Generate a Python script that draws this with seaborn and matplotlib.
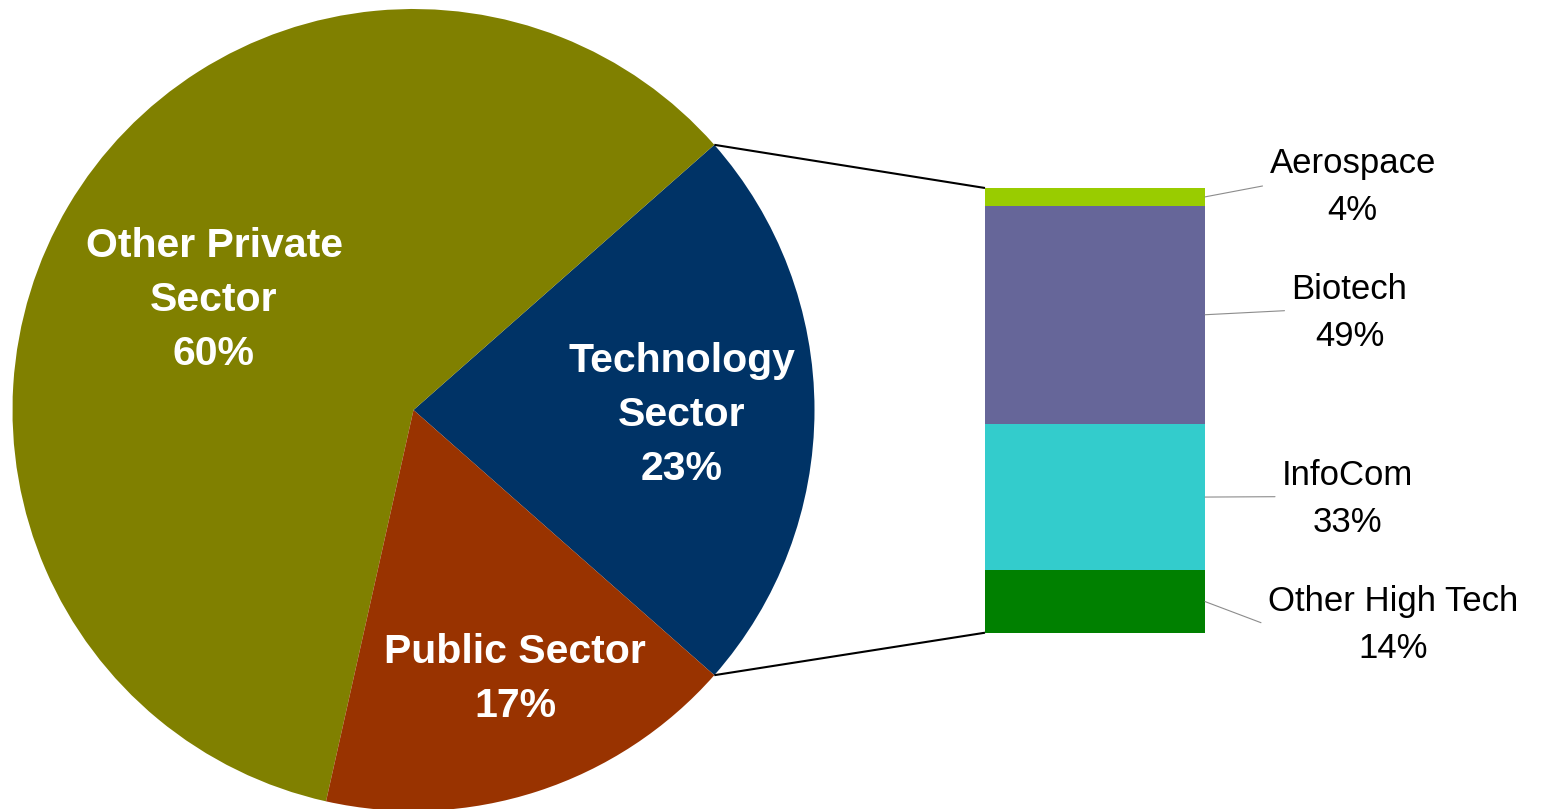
import numpy as np
import matplotlib.pyplot as plt
import seaborn as sns

# main pie
sectors = ['Technology\nSector', 'Other Private\nSector', 'Public Sector']
sector_pct = [23, 60, 17]
sector_colors = ['#003366', '#808000', '#993300']

# breakdown of the technology sector (bottom to top)
tech_parts = ['Other High Tech', 'InfoCom', 'Biotech', 'Aerospace']
tech_pct = [14, 33, 49, 4]
tech_colors = ['#008000', '#33CCCC', '#666699', '#99CC00']

sns.set_theme(style='white')
plt.rcParams['font.family'] = ['Liberation Sans', 'DejaVu Sans']

W, H = 1552, 809
fig = plt.figure(figsize=(W / 100, H / 100), dpi=100)
ax = fig.add_axes([0, 0, 1, 1])

# layout in pixel units (y measured from the top of the image)
pie_center = (413.5, H - 410)
pie_radius = 401
bar_x, bar_w = 1095, 220
bar_top, bar_bottom = H - 188, H - 632.7

start = -360 * sector_pct[0] / 100 / 2
wedges, _ = ax.pie(sector_pct, colors=sector_colors, startangle=start,
                   center=pie_center, radius=pie_radius, counterclock=True,
                   wedgeprops=dict(linewidth=0))

# pie labels: (center x, last baseline y)
pie_label_pos = [(681.7, 480), (214, 365), (515, 716.7)]
for name, pct, (lx, ly) in zip(sectors, sector_pct, pie_label_pos):
    ax.text(lx, H - ly, f'{name}\n{pct}%', ha='center', va='baseline',
            multialignment='center', color='white', fontsize=29.5,
            fontweight='bold', linespacing=1.53)

# stacked bar
scale = (bar_top - bar_bottom) / sum(tech_pct)
bottoms = np.concatenate([[0], np.cumsum(tech_pct)[:-1]]) * scale + bar_bottom
heights = np.array(tech_pct) * scale
ax.bar([bar_x] * len(tech_pct), heights, bottom=bottoms, width=bar_w,
       color=tech_colors, linewidth=0)

# connector lines from tech wedge to the bar
tw = wedges[0]
for ang, by in [(tw.theta2, bar_top), (tw.theta1, bar_bottom)]:
    px = pie_center[0] + pie_radius * np.cos(np.radians(ang))
    py = pie_center[1] + pie_radius * np.sin(np.radians(ang))
    ax.plot([px, bar_x - bar_w / 2], [py, by], color='black', lw=1.5,
            solid_capstyle='butt')

# bar labels: (left x, last baseline y, leader end y)
bar_label_pos = [(1268, 658, 622.7), (1282, 531.5, 496.7),
                 (1291.5, 346, 310.7), (1269.5, 220, 186)]
for name, pct, b, h, (lx, ly, ey) in zip(tech_parts, tech_pct, bottoms,
                                         heights, bar_label_pos):
    ax.plot([bar_x + bar_w / 2, lx - 7], [b + h / 2, H - ey],
            color='#8c8c8c', lw=0.8)
    ax.text(lx, H - ly, f'{name}\n{pct}%', ha='left', va='baseline',
            multialignment='center', color='black', fontsize=25,
            linespacing=1.52)

ax.set_xlim(0, W)
ax.set_ylim(0, H)
ax.set_aspect('equal')
ax.set_axis_off()

plt.savefig('out.png', dpi=100)
